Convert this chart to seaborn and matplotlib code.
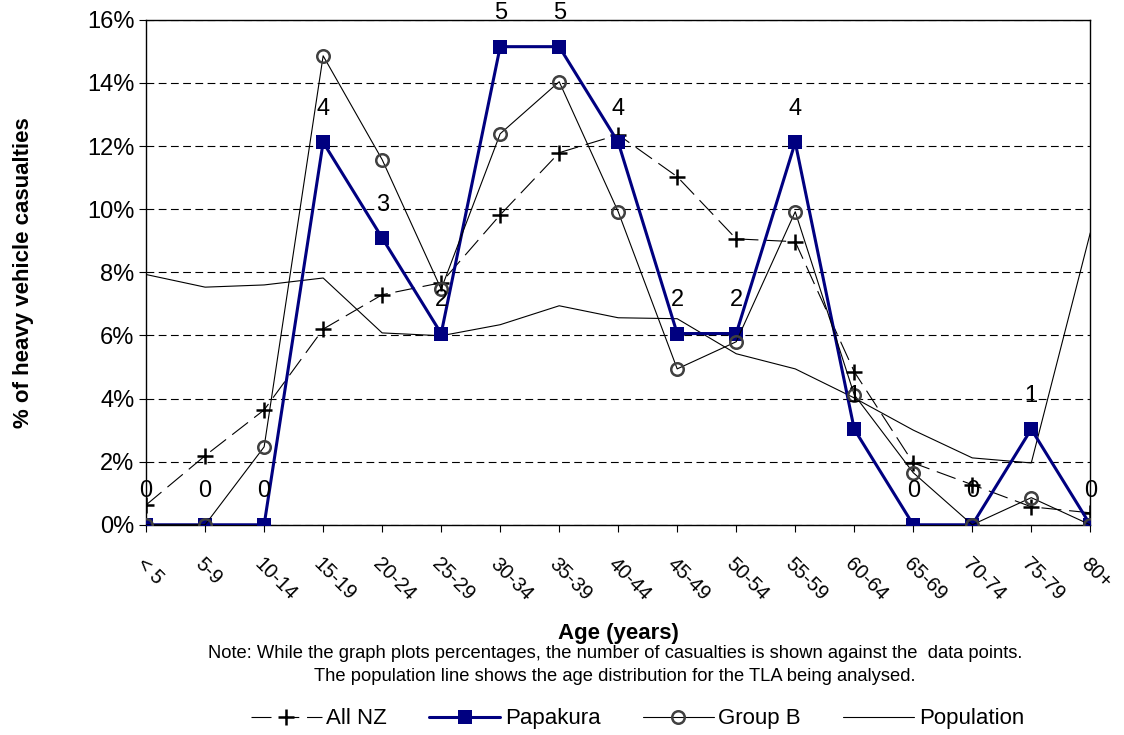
import seaborn as sns
import matplotlib.pyplot as plt
import matplotlib.ticker as mticker
import pandas as pd

ages = ["< 5", "5-9", "10-14", "15-19", "20-24", "25-29", "30-34", "35-39", "40-44",
        "45-49", "50-54", "55-59", "60-64", "65-69", "70-74", "75-79", "80+"]

all_nz = [0.63, 2.19, 3.64, 6.2, 7.29, 7.67, 9.82, 11.79, 12.36,
          11.03, 9.06, 8.97, 4.85, 1.96, 1.27, 0.57, 0.38]
papakura = [0, 0, 0, 12.12, 9.09, 6.06, 15.15, 15.15, 12.12,
            6.06, 6.06, 12.12, 3.03, 0, 0, 3.03, 0]
group_b = [0, 0, 2.47, 14.86, 11.57, 7.47, 12.39, 14.04, 9.92,
           4.94, 5.8, 9.92, 4.12, 1.65, 0, 0.86, 0]
population = [7.93, 7.53, 7.6, 7.82, 6.08, 5.99, 6.34, 6.94, 6.56,
              6.53, 5.42, 4.94, 4.02, 3.0, 2.12, 1.96, 9.25]
counts = [0, 0, 0, 4, 3, 2, 5, 5, 4, 2, 2, 4, 1, 0, 0, 1, 0]

sns.set_style("white")
plt.rcParams['font.family'] = ['Liberation Sans', 'DejaVu Sans']
plt.rcParams.update({"text.color": "black", "axes.labelcolor": "black",
                     "xtick.color": "black", "ytick.color": "black"})

df = pd.DataFrame({"age": ages, "All NZ": all_nz, "Papakura": papakura,
                   "Group B": group_b, "Population": population})

fig = plt.figure(figsize=(11.24, 7.35), dpi=100)
ax = fig.add_axes([0.13, 0.286, 0.84, 0.687])

sns.lineplot(data=df, x="age", y="All NZ", sort=False, ax=ax, color="black",
             linewidth=0.8, linestyle=(0, (18, 7)), marker="+", markersize=11,
             markeredgewidth=1.8, markeredgecolor="black", label="All NZ", zorder=3)
sns.lineplot(data=df, x="age", y="Papakura", sort=False, ax=ax, color="#000080",
             linewidth=2.2, marker="s", markersize=10, markeredgewidth=0,
             label="Papakura", zorder=4)
sns.lineplot(data=df, x="age", y="Group B", sort=False, ax=ax, color="black",
             linewidth=0.8, marker="o", markersize=9, markerfacecolor="none",
             markeredgecolor="#404040", markeredgewidth=1.8, label="Group B", zorder=5)
sns.lineplot(data=df, x="age", y="Population", sort=False, ax=ax, color="black",
             linewidth=0.8, label="Population", zorder=2)

# casualty counts above the Papakura points
for i, (v, n) in enumerate(zip(papakura, counts)):
    ax.annotate(str(n), (i, v), xytext=(0, 24), textcoords="offset points",
                ha="center", va="center", fontsize=17, annotation_clip=False, zorder=6)

ax.set_xlim(0, len(ages) - 1)
ax.set_ylim(0, 16)
ax.set_yticks(range(0, 17, 2))
ax.yaxis.set_major_formatter(mticker.FuncFormatter(lambda v, p: f"{v:.0f}%"))
ax.grid(axis="y", color="black", linestyle=(0, (7, 4)), linewidth=0.8)
for s in ax.spines.values():
    s.set_color("black")
    s.set_linewidth(1.0)
ax.tick_params(axis="both", which="both", direction="out", length=5, width=0.8,
               color="black", labelsize=17, left=True, bottom=True)
ax.tick_params(axis="x", pad=16)
ax.set_xticks(range(len(ages)))
ax.set_xticklabels(ages, rotation=-45, ha="left", va="top", rotation_mode="anchor",
                   fontsize=14.5)

ax.set_xlabel("Age (years)", fontsize=16, fontweight="bold", labelpad=14)
ax.set_ylabel("% of heavy vehicle casualties", fontsize=16, fontweight="bold", labelpad=38)

fig.text(0.547, 0.095, "Note: While the graph plots percentages, the number of casualties "
         "is shown against the  data points.\nThe population line shows the age "
         "distribution for the TLA being analysed.", ha="center", va="center",
         fontsize=13.2, linespacing=1.5, family=['Liberation Sans Narrow', 'Liberation Sans'])

ax.get_legend().remove()
handles, labels = ax.get_legend_handles_labels()
fig.legend(handles, labels, loc="center", bbox_to_anchor=(0.567, 0.022), ncol=4,
           frameon=False, fontsize=16, handlelength=3.2, columnspacing=1.9,
           handletextpad=0.2)

fig.savefig("out.png", dpi=100)
